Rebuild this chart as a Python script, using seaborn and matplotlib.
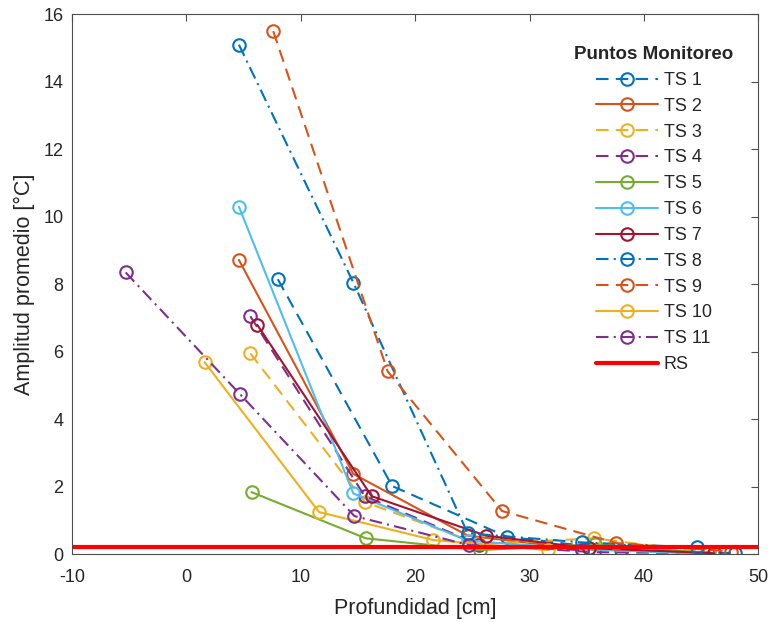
import matplotlib
matplotlib.use("Agg")
import matplotlib.pyplot as plt
import seaborn as sns
import pandas as pd

# ---- data ----
ts1_x = [8.0, 18.0, 28.0, 38.0, 48.0]
ts1_y = [8.15, 2.02, 0.52, 0.12, 0.03]
ts2_x = [4.6, 14.6, 24.6, 34.6, 44.6]
ts2_y = [8.72, 2.38, 0.55, 0.15, 0.05]
ts3_x = [5.6, 15.6, 25.6, 35.6, 45.6]
ts3_y = [5.95, 1.55, 0.30, 0.47, 0.05]
ts4_x = [5.6, 15.6, 25.6, 35.6, 45.6]
ts4_y = [7.05, 1.72, 0.28, 0.06, 0.03]
ts5_x = [5.7, 15.7, 25.7, 35.7, 45.7]
ts5_y = [1.84, 0.47, 0.12, 0.30, 0.03]
ts6_x = [4.6, 14.6, 24.6, 34.6, 44.6]
ts6_y = [10.3, 1.80, 0.40, 0.15, 0.02]
ts7_x = [6.2, 16.2, 26.2, 35.2, 46.1]
ts7_y = [6.80, 1.72, 0.55, 0.18, 0.03]
ts8_x = [4.6, 14.6, 24.6, 34.6, 44.6]
ts8_y = [15.1, 8.05, 0.62, 0.35, 0.20]
ts9_x = [7.6, 17.6, 27.6, 37.6, 47.6]
ts9_y = [15.5, 5.42, 1.28, 0.33, 0.08]
ts10_x = [1.6, 11.6, 21.6, 31.6]
ts10_y = [5.69, 1.25, 0.42, 0.12]
ts11_x = [-5.3, 4.7, 14.7, 24.7, 34.6]
ts11_y = [8.35, 4.74, 1.13, 0.27, 0.12]
rs_x = [-10, 50]
rs_y = [0.22, 0.22]

labels = ["TS 1", "TS 2", "TS 3", "TS 4", "TS 5", "TS 6", "TS 7",
          "TS 8", "TS 9", "TS 10", "TS 11"]
xs = [ts1_x, ts2_x, ts3_x, ts4_x, ts5_x, ts6_x, ts7_x, ts8_x, ts9_x, ts10_x, ts11_x]
ys = [ts1_y, ts2_y, ts3_y, ts4_y, ts5_y, ts6_y, ts7_y, ts8_y, ts9_y, ts10_y, ts11_y]

colors = ["#0072BD", "#D95319", "#EDB120", "#7E2F8E", "#77AC30", "#4DBEEE",
          "#A2142F", "#0072BD", "#D95319", "#EDB120", "#7E2F8E"]
dash = (0, (6, 3.5))
dashdot = (0, (6, 2.5, 1, 2.5))
styles = [dash, "-", dash, dash, "-", "-", "-", dashdot, dash, "-", dashdot]

sns.set_theme(style="white")
plt.rcParams["font.family"] = ["Liberation Sans", "DejaVu Sans"]
plt.rcParams["axes.unicode_minus"] = False

fig = plt.figure(figsize=(7.73, 6.22), dpi=100)
ax = fig.add_axes([0.093, 0.109, 0.888, 0.868])

for x, y, lab, c, ls in zip(xs, ys, labels, colors, styles):
    df = pd.DataFrame({"x": x, "y": y})
    sns.lineplot(data=df, x="x", y="y", ax=ax, color=c, linestyle=ls,
                 linewidth=1.5, marker="o", markersize=9,
                 markerfacecolor="none", markeredgecolor=c,
                 markeredgewidth=1.5, label=lab, sort=False)

sns.lineplot(x=rs_x, y=rs_y, ax=ax, color="#FF0000", linewidth=3, label="RS")

ax.set_xlim(-10, 50)
ax.set_ylim(0, 16)
ax.set_xticks(range(-10, 51, 10))
ax.set_yticks(range(0, 17, 2))
ax.set_xlabel("Profundidad [cm]", fontsize=15.5, color="#262626", labelpad=8)
ax.set_ylabel("Amplitud promedio [°C]", fontsize=15.5, color="#262626", labelpad=6)
ax.tick_params(axis="both", labelsize=13, direction="in", length=5,
               color="#4d4d4d", labelcolor="#262626", top=True, right=True,
               width=0.8)
ax.tick_params(axis="x", pad=11)
ax.tick_params(axis="y", pad=6)
for s in ax.spines.values():
    s.set_color("#4d4d4d")
    s.set_linewidth(0.8)
    s.set_visible(True)

leg = ax.legend(loc="upper center", bbox_to_anchor=(0.848, 0.958),
                frameon=False, fontsize=13, borderpad=0,
                title="Puntos Monitoreo", handlelength=3.45,
                handletextpad=0.3, labelspacing=0.49,
                title_fontproperties={"weight": "bold", "size": 13.5})

fig.savefig("out.png", dpi=100)
